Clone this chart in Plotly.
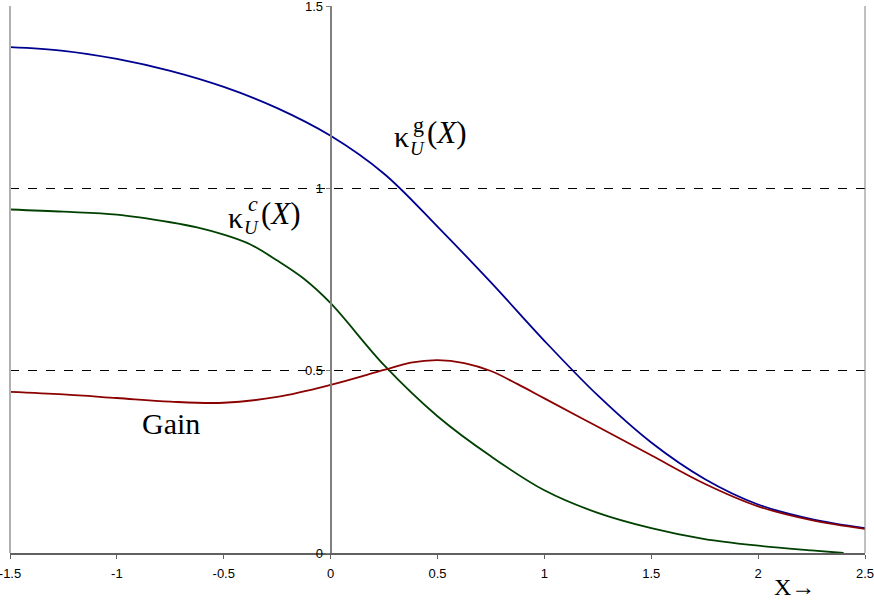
import plotly.graph_objects as go

x_g = [-1.5, -1.25, -1.0, -0.75, -0.5, -0.25, 0.0, 0.25, 0.5, 0.75, 1.0, 1.25, 1.5, 1.75, 2.0, 2.25, 2.5]
kappa_g = [1.387, 1.377, 1.355, 1.322, 1.278, 1.220, 1.144, 1.040, 0.895, 0.742, 0.582, 0.432, 0.303, 0.203, 0.133, 0.093, 0.068]

x_gain = [-1.5, -1.25, -1.0, -0.75, -0.5, -0.25, 0.0, 0.25, 0.375, 0.5, 0.625, 0.75, 0.875, 1.0, 1.25, 1.5, 1.75, 2.0, 2.25, 2.5]
gain = [0.442, 0.435, 0.425, 0.415, 0.412, 0.428, 0.461, 0.502, 0.522, 0.529, 0.521, 0.499, 0.463, 0.424, 0.346, 0.268, 0.19, 0.128, 0.09, 0.066]

x_c = [-1.5, -1.25, -1.0, -0.75, -0.625, -0.5, -0.375, -0.25, -0.125, 0.0, 0.25, 0.5, 0.75, 1.0, 1.25, 1.5, 1.75, 2.0, 2.25, 2.4]
kappa_c = [0.942, 0.936, 0.928, 0.907, 0.893, 0.873, 0.846, 0.802, 0.752, 0.685, 0.515, 0.375, 0.265, 0.172, 0.11, 0.068, 0.038, 0.02, 0.007, 0.0]

x_ticks = [-1.5, -1.0, -0.5, 0.0, 0.5, 1.0, 1.5, 2.0, 2.5]
x_ticktext = ["-1.5", "-1", "-0.5", "0", "0.5", "1", "1.5", "2", "2.5"]
y_ticks = [0, 0.5, 1.0, 1.5]
y_ticktext = ["0", "0.5", "1", "1.5"]

fig = go.Figure()
fig.add_trace(go.Scatter(x=x_g, y=kappa_g, mode="lines",
                         line=dict(color="#000090", width=1.8, shape="spline", smoothing=1.0)))
fig.add_trace(go.Scatter(x=x_c, y=kappa_c, mode="lines",
                         line=dict(color="#004000", width=1.8, shape="spline", smoothing=1.0)))
fig.add_trace(go.Scatter(x=x_gain, y=gain, mode="lines",
                         line=dict(color="#8B0000", width=1.8, shape="spline", smoothing=1.0)))

serif = "Liberation Serif, Times New Roman, serif"
ann = []
def a(x, y, text, size):
    ann.append(dict(x=x, y=y, xref="x", yref="y", text=text, showarrow=False,
                    font=dict(family=serif, size=size, color="black"),
                    xanchor="center", yanchor="middle"))

# kappa^g_U(X)
a(0.330, 1.141, "κ", 30)
a(0.412, 1.174, "g", 22)
a(0.405, 1.110, "<i>U</i>", 19)
a(0.545, 1.152, "(<i>X</i>)", 31)
# kappa^c_U(X)
a(-0.447, 0.919, "κ", 30)
a(-0.365, 0.958, "<i>c</i>", 22)
a(-0.370, 0.893, "<i>U</i>", 19)
a(-0.232, 0.930, "(<i>X</i>)", 31)
# Gain
a(-0.747, 0.356, "Gain", 30)
# X arrow (below the axis)
ann.append(dict(x=2.17, y=-0.062, xref="x", yref="paper", text="X→", showarrow=False,
                font=dict(family=serif, size=24, color="black"),
                xanchor="center", yanchor="middle"))

fig.update_layout(
    width=874, height=601,
    margin=dict(l=10, r=9, t=6, b=48, autoexpand=False),
    paper_bgcolor="white", plot_bgcolor="white",
    showlegend=False,
    annotations=ann,
    shapes=[
        dict(type="line", xref="paper", yref="paper", x0=0, x1=0, y0=0, y1=1,
             line=dict(color="#b0b0b0", width=2)),
        dict(type="line", xref="paper", yref="paper", x0=1, x1=1, y0=0, y1=1,
             line=dict(color="#808080", width=1)),
    ],
    xaxis=dict(range=[-1.5, 2.5], tickvals=x_ticks, ticktext=x_ticktext,
               showgrid=False, zeroline=False, showline=True, linecolor="#606060", linewidth=2,
               ticks="outside", ticklen=4, tickcolor="#606060", ticklabeloverflow="allow",
               ticklabelstandoff=3,
               tickfont=dict(family="Liberation Sans, Arial", size=13, color="black")),
    yaxis=dict(range=[0, 1.5], tickvals=y_ticks, ticktext=y_ticktext,
               anchor="free", position=0.375, ticklabeloverflow="allow",
               showgrid=True, gridcolor="black", gridwidth=1, griddash="dash",
               zeroline=False, showline=True, linecolor="#808080", linewidth=2,
               ticks="outside", ticklen=4, tickcolor="#808080",
               tickfont=dict(family="Liberation Sans, Arial", size=13, color="black")),
)

fig.write_html("out.html", config={"displayModeBar": False},
               post_script="document.body.style.margin='0';")
